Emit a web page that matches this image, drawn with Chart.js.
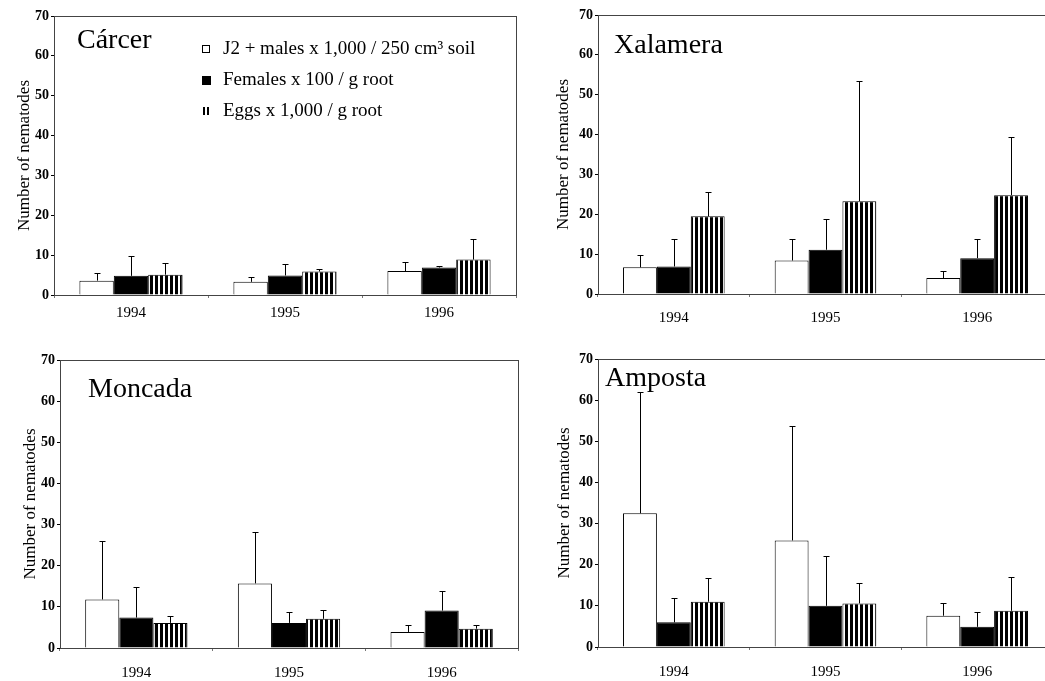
<!DOCTYPE html>
<html>
<head>
<meta charset="utf-8">
<title>Number of nematodes</title>
<script src="https://cdn.jsdelivr.net/npm/chart.js@4.4.1/dist/chart.umd.min.js"></script>
<style>
	html, body { margin:0; padding:0; background:#fff; overflow:hidden; }
	#wrap { position:relative; width:1045px; height:681px; overflow:hidden; }
	#wrap canvas { position:absolute; }
</style>
</head>
<body>
<div id="wrap">
	<canvas id="carcer" width="520" height="330" style="left:0;top:0"></canvas>
	<canvas id="xalamera" width="533" height="330" style="left:520px;top:0"></canvas>
	<canvas id="moncada" width="520" height="351" style="left:0;top:330px"></canvas>
	<canvas id="amposta" width="533" height="351" style="left:520px;top:330px"></canvas>
</div>
<script>
var years = ['1994', '1995', '1996'];
var seriesLabels = ['J2 + males x 1,000 / 250 cm³ soil', 'Females x 100 / g root', 'Eggs x 1,000 / g root'];
var yAxisTitle = 'Number of nematodes';

// bar heights, then the top of each error bar
var carcerJ2 = [3.6, 3.3, 6.0];
var carcerFemales = [4.8, 4.9, 6.9];
var carcerEggs = [5.1, 5.9, 8.9];
var carcerJ2Up = [5.6, 4.6, 8.4];
var carcerFemalesUp = [9.9, 7.8, 7.3];
var carcerEggsUp = [8.1, 6.6, 14.0];

var xalameraJ2 = [6.7, 8.4, 4.0];
var xalameraFemales = [6.9, 11.1, 9.0];
var xalameraEggs = [19.5, 23.3, 24.8];
var xalameraJ2Up = [9.7, 13.8, 5.7];
var xalameraFemalesUp = [13.9, 18.7, 13.8];
var xalameraEggsUp = [25.5, 53.4, 39.3];

var moncadaJ2 = [11.8, 15.7, 3.9];
var moncadaFemales = [7.4, 6.1, 9.1];
var moncadaEggs = [6.1, 7.1, 4.7];
var moncadaJ2Up = [25.9, 28.1, 5.6];
var moncadaFemalesUp = [14.8, 8.8, 13.8];
var moncadaEggsUp = [7.8, 9.3, 5.6];

var ampostaJ2 = [32.5, 25.9, 7.6];
var ampostaFemales = [6.0, 10.0, 4.9];
var ampostaEggs = [11.0, 10.6, 8.8];
var ampostaJ2Up = [62.0, 53.6, 10.6];
var ampostaFemalesUp = [11.8, 22.1, 8.6];
var ampostaEggsUp = [16.7, 15.5, 17.0];

var yMin = 0, yMax = 70, yStep = 10;

var SERIF = '"Liberation Serif", "Times New Roman", serif';

function stripes(ctx){
	var c = document.createElement('canvas');
	c.width = 5; c.height = 10;
	var g = c.getContext('2d');
	g.fillStyle = '#fff'; g.fillRect(0, 0, 5, 10);
	g.fillStyle = '#000'; g.fillRect(0, 0, 3, 10);
	return ctx.createPattern(c, 'repeat');
}

var errorBars = {
	id: 'errorBars',
	afterDatasetsDraw(chart){
		var ctx = chart.ctx, y = chart.scales.y;
		ctx.save();
		ctx.strokeStyle = '#000';
		ctx.lineWidth = 1;
		chart.data.datasets.forEach((ds, i) => {
			chart.getDatasetMeta(i).data.forEach((bar, j) => {
				var x = Math.round(bar.x) + 0.5;
				var top = Math.round(y.getPixelForValue(ds.upper[j])) + 0.5;
				ctx.beginPath();
				ctx.moveTo(x, bar.y);
				ctx.lineTo(x, top);
				ctx.moveTo(x - 3, top);
				ctx.lineTo(x + 3, top);
				ctx.stroke();
			});
		});
		ctx.restore();
	}
};

// frame round the plot + site name
var frame = {
	id: 'frame',
	beforeDatasetsDraw(chart){
		var a = chart.chartArea, ctx = chart.ctx;
		ctx.save();
		ctx.strokeStyle = '#444';
		ctx.lineWidth = 1;
		ctx.strokeRect(Math.round(a.left) + 0.5, Math.round(a.top) + 0.5, Math.round(a.right - a.left), Math.round(a.bottom - a.top));
		ctx.restore();
	},
	afterDraw(chart, args, opts){
		var a = chart.chartArea, ctx = chart.ctx;
		ctx.save();
		ctx.fillStyle = '#000';
		ctx.font = `28px ${SERIF}`;
		ctx.textBaseline = 'alphabetic';
		ctx.fillText(opts.text, a.left + opts.dx, a.top + opts.dy);
		ctx.restore();
	}
};

// legend sits inside the first panel
var boxLegend = {
	id: 'boxLegend',
	afterDraw(chart, args, opts){
		if(!opts.show) return;
		var a = chart.chartArea, ctx = chart.ctx;
		var ds = chart.data.datasets;
		ctx.save();
		ctx.font = `19px ${SERIF}`;
		ctx.textBaseline = 'middle';
		ds.forEach((d, i) => {
			var cy = Math.round(a.top + opts.y0 + i * opts.gap);
			var sx = Math.round(a.left + opts.x);
			ctx.fillStyle = '#000';
			if(i === 0){
				ctx.lineWidth = 1;
				ctx.strokeStyle = '#000';
				ctx.strokeRect(sx + 0.5, cy - 3.5, 7, 7);
			}else if(i === 1){
				ctx.fillRect(sx, cy - 4, 9, 9);
			}else{
				ctx.fillRect(sx + 1, cy - 4, 2, 8);
				ctx.fillRect(sx + 5, cy - 4, 2, 8);
			}
			ctx.fillText(d.label, sx + opts.textGap, cy);
		});
		ctx.restore();
	}
};

function makePanel(id, name, j2, fem, eggs, j2Up, femUp, eggsUp, lay){
	var el = document.getElementById(id);
	var ctx = el.getContext('2d');
	return new Chart(el, {
		type: 'bar',
		data: {
			labels: years,
			datasets: [
				{label: seriesLabels[0], data: j2, upper: j2Up, backgroundColor: '#fff'},
				{label: seriesLabels[1], data: fem, upper: femUp, backgroundColor: '#000'},
				{label: seriesLabels[2], data: eggs, upper: eggsUp, backgroundColor: stripes(ctx)}
			]
		},
		options: {
			responsive: false,
			animation: false,
			events: [],
			layout: {padding: {top: lay.top, right: lay.right, left: 0, bottom: 0}},
			datasets: {bar: {borderColor: '#000', borderWidth: 1, barPercentage: 1, categoryPercentage: 0.67}},
			scales: {
				x: {
					grid: {display: true, drawOnChartArea: false, tickLength: 3, color: '#777'},
					border: {color: '#000', width: 1},
					ticks: {color: '#000', padding: lay.xPad, font: {family: SERIF, size: 15}},
					afterFit: s => { s.height = lay.axisH; }
				},
				y: {
					min: yMin, max: yMax,
					grid: {display: true, drawOnChartArea: false, tickLength: 3, color: '#000'},
					border: {color: '#000', width: 1},
					ticks: {stepSize: yStep, color: '#000', padding: 2, font: {family: SERIF, size: 14, weight: 'bold'}},
					title: {display: true, text: yAxisTitle, color: '#000', padding: {top: lay.titlePad, bottom: 0}, font: {family: SERIF, size: 17}},
					afterFit: s => { s.width = lay.axisW; }
				}
			},
			plugins: {
				legend: {display: false},
				tooltip: {enabled: false},
				frame: {text: name, dx: lay.dx, dy: lay.dy},
				boxLegend: {show: !!lay.legend, x: 148, y0: 33, gap: 31, textGap: 21}
			}
		},
		plugins: [frame, errorBars, boxLegend]
	});
}

makePanel('carcer', 'Cárcer', carcerJ2, carcerFemales, carcerEggs, carcerJ2Up, carcerFemalesUp, carcerEggsUp,
	{axisW: 54, axisH: 35, top: 16, right: 4, titlePad: 14, xPad: 6, dx: 23, dy: 32, legend: true});
makePanel('xalamera', 'Xalamera', xalameraJ2, xalameraFemales, xalameraEggs, xalameraJ2Up, xalameraFemalesUp, xalameraEggsUp,
	{axisW: 78, axisH: 36, top: 15, right: 0, titlePad: 33, xPad: 12, dx: 16, dy: 38});
makePanel('moncada', 'Moncada', moncadaJ2, moncadaFemales, moncadaEggs, moncadaJ2Up, moncadaFemalesUp, moncadaEggsUp,
	{axisW: 60, axisH: 33, top: 30, right: 2, titlePad: 20, xPad: 13, dx: 28, dy: 37});
makePanel('amposta', 'Amposta', ampostaJ2, ampostaFemales, ampostaEggs, ampostaJ2Up, ampostaFemalesUp, ampostaEggsUp,
	{axisW: 78, axisH: 34, top: 29, right: 0, titlePad: 34, xPad: 13, dx: 7, dy: 27});
</script>
</body>
</html>
